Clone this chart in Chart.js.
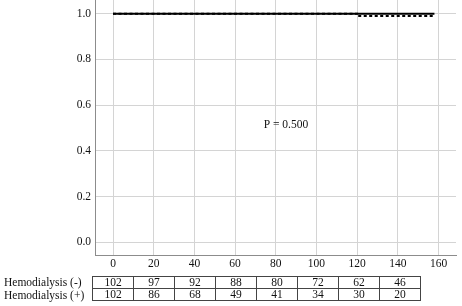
<!DOCTYPE html>
<html>
<head>
<meta charset="utf-8">
<script src="https://cdn.jsdelivr.net/npm/chart.js@4"></script>
<style>
  html, body { margin: 0; padding: 0; background: #fff; }
  #wrap { position: relative; width: 462px; height: 306px; }
  #km { position: absolute; left: 0; top: 0; }
  .lbl { position: absolute; left: 4px; font: 11.5px "Liberation Serif", "Times New Roman", serif; color: #111; }
  #risk { position: absolute; left: 92px; top: 276px; border-collapse: collapse;
          font: 11.5px "Liberation Serif", "Times New Roman", serif; color: #111; }
  #risk td { border: 1px solid #444; width: 40px; height: 11px; padding: 0; text-align: center; line-height: 11px; }
</style>
</head>
<body>
<div id="wrap">
  <canvas id="km" width="462" height="306"></canvas>
  <div class="lbl" style="top:276px">Hemodialysis (-)</div>
  <div class="lbl" style="top:289px">Hemodialysis (+)</div>
  <table id="risk"><tbody></tbody></table>
</div>
<script>
/* ─── Data ─── */
const xTicks = [0, 20, 40, 60, 80, 100, 120, 140, 160];
const yTicks = [0, 0.2, 0.4, 0.6, 0.8, 1.0];

// survival steps (time, survival)
const hdNegTimes = [0, 158];
const hdNegSurv  = [1.0, 1.0];
const hdPosTimes = [0, 120, 158];
const hdPosSurv  = [1.0, 0.99, 0.99];

const riskTimes = [0, 20, 40, 60, 80, 100, 120, 140];
const riskNeg   = [102, 97, 92, 88, 80, 72, 62, 46];
const riskPos   = [102, 86, 68, 49, 41, 34, 30, 20];

const pLabel = 'P = 0.500';

/* ─── Number-at-risk table ─── */
const tbody = document.querySelector('#risk tbody');
[riskNeg, riskPos].forEach(row => {
  const tr = document.createElement('tr');
  row.forEach(v => { const td = document.createElement('td'); td.textContent = v; tr.appendChild(td); });
  tbody.appendChild(tr);
});

/* ─── Chart ─── */
const serif = '"Liberation Serif", "Times New Roman", serif';
const toPts = (xs, ys) => xs.map((x, i) => ({ x, y: ys[i] }));

const pText = {
  id: 'pText',
  afterDatasetsDraw(chart) {
    const { ctx, scales } = chart;
    ctx.save();
    ctx.font = '11.5px ' + serif;
    ctx.fillStyle = '#111';
    ctx.textAlign = 'center';
    ctx.textBaseline = 'middle';
    ctx.fillText(pLabel, scales.x.getPixelForValue(85), scales.y.getPixelForValue(0.515));
    ctx.restore();
  }
};

new Chart(document.getElementById('km'), {
  type: 'line',
  data: {
    datasets: [
      {
        label: 'Hemodialysis (-)',
        data: toPts(hdNegTimes, hdNegSurv),
        borderColor: '#000',
        borderWidth: 2,
        pointRadius: 0,
        stepped: 'before',
        fill: false,
      },
      {
        label: 'Hemodialysis (+)',
        data: toPts(hdPosTimes, hdPosSurv),
        borderColor: '#000',
        borderWidth: 2,
        borderDash: [3, 2.5],
        pointRadius: 0,
        stepped: 'before',
        fill: false,
      }
    ]
  },
  options: {
    responsive: false,
    animation: false,
    layout: { padding: { top: 0, right: 6, bottom: 0, left: 0 } },
    plugins: { legend: { display: false }, tooltip: { enabled: false } },
    scales: {
      x: {
        type: 'linear',
        min: -8.85,
        max: 168.6,
        afterBuildTicks: s => { s.ticks = xTicks.map(v => ({ value: v })); },
        afterFit: s => { s.height = 51; s.paddingLeft = 0; s.paddingRight = 0; },
        grid: { color: '#d4d4d4', lineWidth: 1, drawTicks: false },
        border: { color: '#8c8c8c', width: 1 },
        ticks: { padding: 2, color: '#111', font: { family: serif, size: 11.5 } }
      },
      y: {
        min: -0.055,
        max: 1.06,
        afterBuildTicks: s => { s.ticks = yTicks.map(v => ({ value: v })); },
        afterFit: s => { s.width = 95; s.paddingTop = 0; s.paddingBottom = 0; },
        grid: { color: '#d4d4d4', lineWidth: 1, drawTicks: false },
        border: { color: '#8c8c8c', width: 1 },
        ticks: { padding: 4, color: '#111', font: { family: serif, size: 11.5 },
                 callback: v => v.toFixed(1) }
      }
    }
  },
  plugins: [pText]
});
</script>
</body>
</html>
